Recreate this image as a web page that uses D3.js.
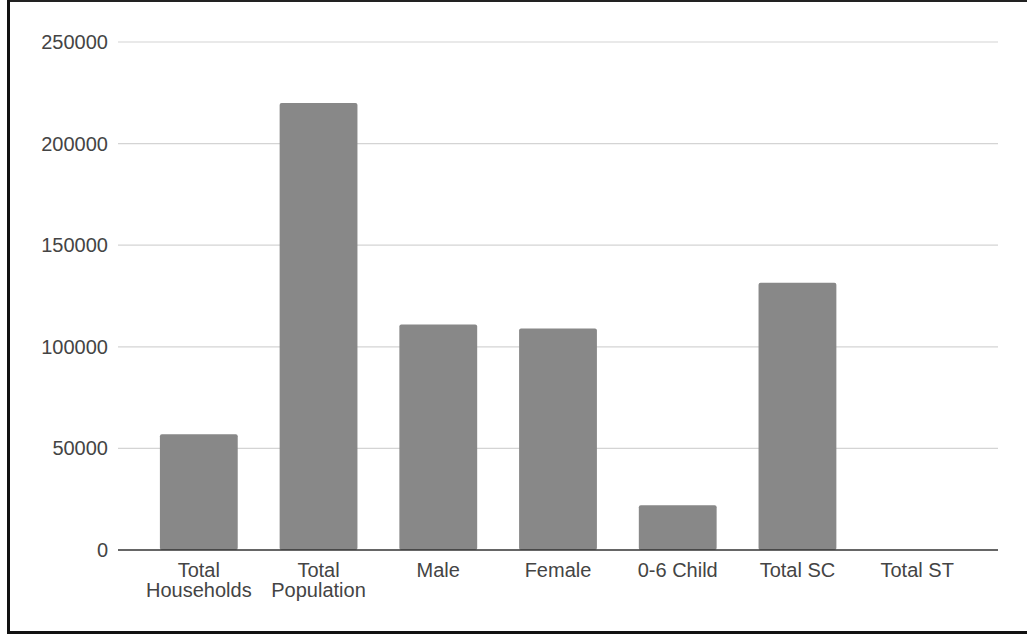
<!DOCTYPE html>
<html>
<head>
<meta charset="utf-8">
<script src="https://cdn.jsdelivr.net/npm/d3@7"></script>
<style>
  body { margin: 0; background: #fff; }
  svg { display: block; }
</style>
</head>
<body>
<div id="chart"></div>
<script>
"use strict";

// data
var categories = [["Total", "Households"], ["Total", "Population"], ["Male"], ["Female"], ["0-6 Child"], ["Total SC"], ["Total ST"]];
var values = [57000, 220000, 111000, 109000, 22000, 131500, 0];
var yTicks = [0, 50000, 100000, 150000, 200000, 250000];

var W = 1027, H = 638;
var plot = { left: 118, right: 998, top: 42, bottom: 550 };
var font = "'Liberation Sans', Arial, sans-serif";

var svg = d3.select("#chart").append("svg")
    .attr("width", W)
    .attr("height", H);

// frame (top, left, bottom edges)
svg.append("rect").attr("x", 7).attr("y", 0).attr("width", W).attr("height", 2).attr("fill", "#222");
svg.append("rect").attr("x", 7).attr("y", 0).attr("width", 3).attr("height", 634).attr("fill", "#111");
svg.append("rect").attr("x", 7).attr("y", 631).attr("width", W).attr("height", 3).attr("fill", "#111");

var idx = categories.map((d, i) => i);

var x = d3.scaleBand()
    .domain(idx)
    .range([plot.left, plot.right])
    .paddingInner(0.35)
    .paddingOuter(0.35);

var y = d3.scaleLinear()
    .domain([0, 250000])
    .range([plot.bottom, plot.top]);

// gridlines
svg.append("g")
    .selectAll("line")
    .data(yTicks.filter(d => d > 0))
    .join("line")
      .attr("x1", plot.left)
      .attr("x2", plot.right)
      .attr("y1", d => y(d))
      .attr("y2", d => y(d))
      .attr("stroke", "#d4d4d4")
      .attr("stroke-width", 1.2);

// y axis labels
var yAxis = d3.axisLeft(y).tickValues(yTicks).tickSize(0).tickPadding(10).tickFormat(d3.format("d"));
var gy = svg.append("g")
    .attr("transform", "translate(" + plot.left + ",0)")
    .call(yAxis);
gy.select(".domain").remove();
gy.selectAll("text")
    .attr("font-family", font)
    .attr("font-size", 20)
    .attr("fill", "#444");

// bars
svg.append("g")
    .selectAll("rect")
    .data(values)
    .join("rect")
      .attr("x", (d, i) => x(i))
      .attr("y", d => y(d))
      .attr("width", x.bandwidth())
      .attr("height", d => plot.bottom - y(d))
      .attr("rx", 2)
      .attr("fill", "#888888");

// x axis line
svg.append("line")
    .attr("x1", plot.left)
    .attr("x2", plot.right)
    .attr("y1", plot.bottom)
    .attr("y2", plot.bottom)
    .attr("stroke", "#333")
    .attr("stroke-width", 1.5);

// x labels
var xl = svg.append("g")
    .selectAll("text")
    .data(categories)
    .join("text")
      .attr("x", (d, i) => x(i) + x.bandwidth() / 2)
      .attr("y", 577)
      .attr("text-anchor", "middle")
      .attr("font-family", font)
      .attr("font-size", 20)
      .attr("fill", "#444");

xl.each(function(d) {
  var t = d3.select(this);
  d.forEach(function(line, k) {
    t.append("tspan")
      .attr("x", t.attr("x"))
      .attr("dy", k === 0 ? 0 : 20)
      .text(line);
  });
});
</script>
</body>
</html>
